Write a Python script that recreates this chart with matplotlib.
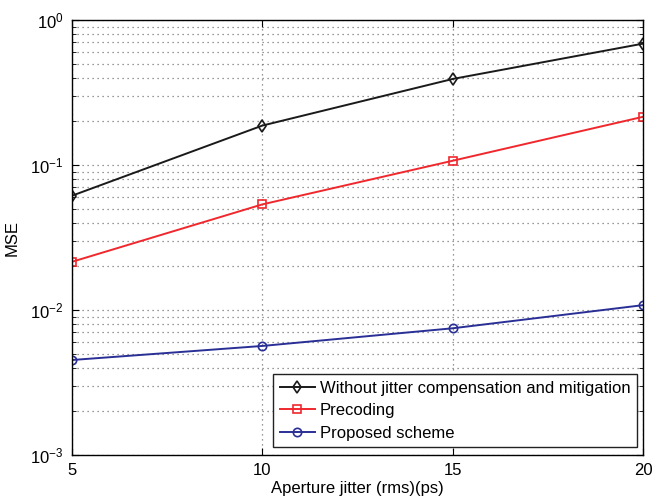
import numpy as np
import matplotlib.pyplot as plt
from matplotlib.ticker import LogLocator, NullFormatter

plt.rcParams['font.family'] = ['Liberation Sans', 'DejaVu Sans']
plt.rcParams['mathtext.fontset'] = 'custom'
plt.rcParams['mathtext.rm'] = 'Liberation Sans'

# data
jitter = [5, 10, 15, 20]
mse_without = [0.0614, 0.187, 0.392, 0.687]
mse_precoding = [0.0215, 0.0535, 0.107, 0.215]
mse_proposed = [0.00452, 0.00565, 0.00748, 0.0108]
labels = ['Without jitter compensation and mitigation', 'Precoding', 'Proposed scheme']

fig = plt.figure(figsize=(6.65, 4.96), dpi=100)
ax = fig.add_axes([72/665, 1 - 455/496, (643-72)/665, (455-20)/496])

ax.semilogy(jitter, mse_without, '-', color='#1a1a1a', marker='d', mfc='none',
            ms=6, mew=1.2, lw=1.4, label=labels[0])
ax.semilogy(jitter, mse_precoding, '-', color='#f0282d', marker='s', mfc='none',
            ms=5.5, mew=1.2, lw=1.4, label=labels[1])
ax.semilogy(jitter, mse_proposed, '-', color='#2a2f96', marker='o', mfc='none',
            ms=6, mew=1.2, lw=1.4, label=labels[2])

ax.set_xlim(5, 20)
ax.set_ylim(1e-3, 1e0)
ax.set_xticks([5, 10, 15, 20])
ax.yaxis.set_major_locator(LogLocator(base=10, numticks=10))
ax.yaxis.set_minor_locator(LogLocator(base=10, subs=np.arange(2, 10), numticks=10))
ax.yaxis.set_minor_formatter(NullFormatter())

ax.grid(True, which='major', linestyle=(0, (1, 3)), color='#777777', lw=0.9)
ax.grid(True, which='minor', axis='y', linestyle=(0, (1, 3)), color='#777777', lw=0.9)

ax.tick_params(which='both', direction='in', top=True, right=True, labelsize=12)
ax.tick_params(which='major', length=5, pad=6)
ax.tick_params(which='minor', length=3)
for s in ax.spines.values():
    s.set_linewidth(1.0)

ax.set_xlabel('Aperture jitter (rms)(ps)', fontsize=12, labelpad=2)
ax.set_ylabel('MSE', fontsize=12, labelpad=8)

leg = ax.legend(loc='lower right', bbox_to_anchor=(0.9895, 0.018), fontsize=12,
                fancybox=False, framealpha=1, edgecolor='#222222', borderaxespad=0,
                handlelength=2.1, borderpad=0.4, labelspacing=0.45, handletextpad=0.3)
leg.get_frame().set_linewidth(1.0)

fig.savefig('out.png', dpi=100)
